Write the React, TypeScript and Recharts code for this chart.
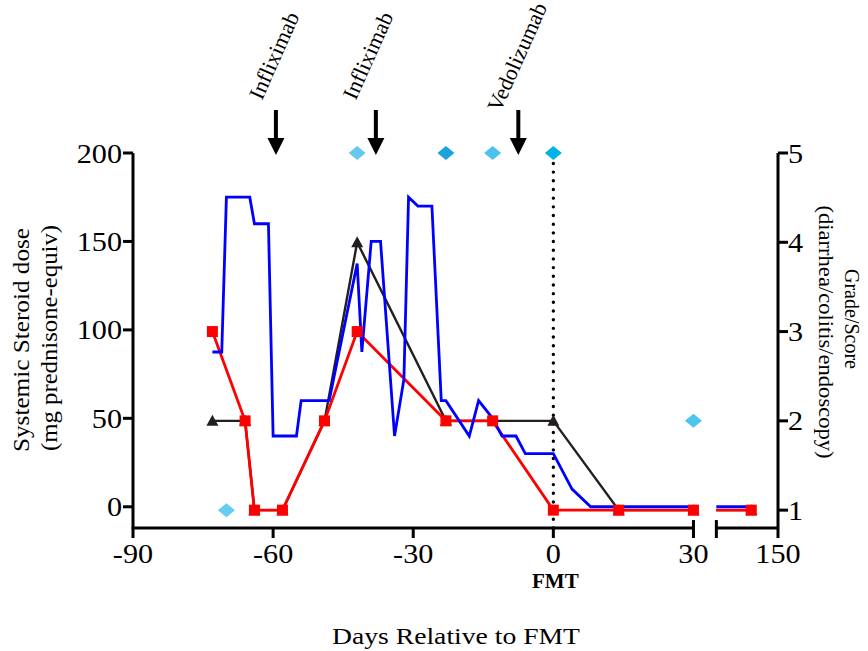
import React from 'react';
import { ComposedChart, Line, Scatter, XAxis, YAxis, ReferenceLine, ReferenceDot, Cell } from 'recharts';

// broken x axis: days -90..30 run 1:1, then the axis jumps to a short 120..150 segment
const BREAK_FROM = 30;
const BREAK_TO = 120;
const AXIS_END = 150;
const SEG2_START = 34.9;
const SEG2_END = 48.1;

const toPlot = (day: number) =>
  day <= BREAK_FROM ? day : SEG2_START + ((day - BREAK_TO) * (SEG2_END - SEG2_START)) / (AXIS_END - BREAK_TO);

// systemic steroid dose, mg prednisone-equiv (left axis)
const doseDays = [-73, -71, -70, -65, -64, -61, -60, -55, -54, -48, -42, -41, -39, -37, -34, -32, -31, -29, -26, -24, -23, -18, -16, -13, -11, -8, -6, 0, 4, 8, 30, 137];
const doseMg = [87.5, 87.5, 175, 175, 160, 160, 40, 40, 60, 60, 137.5, 87.5, 150, 150, 40, 72, 175, 170, 170, 60, 60, 40, 60, 50, 40, 40, 30, 30, 10, 0, 0, 0];

// grade (right axis), red squares
const redDays = [-73, -66, -64, -58, -49, -42, -23, -13, 0, 14, 30, 137];
const redGrade = [3, 2, 1, 1, 2, 3, 2, 2, 1, 1, 1, 1];

// grade (right axis), black triangles
const blackDays = [-73, -66, -64, -58, -49, -42, -23, 0, 14, 30, 137];
const blackGrade = [2, 2, 1, 1, 2, 4, 2, 2, 1, 1, 1];

// endoscopy score (right axis), diamonds
const endoDays = [-70, -42, -23, -13, 0, 30];
const endoScore = [1, 5, 5, 5, 5, 2];
const endoColors = ['#66CCF2', '#66C8EA', '#1AA3DC', '#4BC3EE', '#00B4E4', '#4DC6EE'];

const xTickDays = [-90, -60, -30, 0, 30, 150];
const doseTicks = [0, 50, 100, 150, 200];
const gradeTicks = [1, 2, 3, 4, 5];

const drugDays = [-59.4, -38, -7.5];
const drugNames = ['Infliximab', 'Infliximab', 'Vedolizumab'];
const drugLabelOffsets = [[-14, -52], [-20, -52], [-18, -40]];

const FONT = '"Liberation Serif", "Times New Roman", serif';

const points = (days: number[], vals: number[]) => days.map((d, i) => ({ x: toPlot(d), y: vals[i] }));

// line data, cut where it crosses the axis break
const lineData = (days: number[], vals: number[]) => {
  const out: { x: number; y: number | null }[] = [];
  days.forEach((d, i) => {
    if (i > 0 && days[i - 1] <= BREAK_FROM && d >= BREAK_TO) {
      const p = days[i - 1];
      const v = vals[i - 1] + ((vals[i] - vals[i - 1]) * (BREAK_TO - p)) / (d - p);
      out.push({ x: (BREAK_FROM + SEG2_START) / 2, y: null });
      out.push({ x: SEG2_START, y: v });
    }
    out.push({ x: toPlot(d), y: vals[i] });
  });
  return out;
};

const XTick = ({ x, y, payload }: any) => {
  const day = xTickDays.find((d) => Math.abs(toPlot(d) - payload.value) < 1e-6);
  if (day === undefined) return null;
  return (
    <g transform={`translate(${x},${y})`}>
      <text y={23} textAnchor="middle" fontFamily={FONT} fontSize={27} fill="#000" transform="scale(1.12,1)">
        {day}
      </text>
      {day === 0 && (
        <text x={2} y={48} textAnchor="middle" fontFamily={FONT} fontSize={21} fontWeight="bold" fill="#000">
          FMT
        </text>
      )}
    </g>
  );
};

const YTick = ({ x, y, payload, anchor }: any) => (
  <g transform={`translate(${x},${y})`}>
    <text y={9.5} textAnchor={anchor} fontFamily={FONT} fontSize={27} fill="#000" transform="scale(1.12,1)">
      {payload.value}
    </text>
  </g>
);

const Square = ({ cx, cy }: any) => <rect x={cx - 5.5} y={cy - 5.5} width={11} height={11} fill="#FF0000" />;
const Triangle = ({ cx, cy }: any) => (
  <polygon points={`${cx - 6},${cy + 5} ${cx + 6},${cy + 5} ${cx},${cy - 6}`} fill="#231F20" />
);
const Diamond = ({ cx, cy, fill }: any) => (
  <polygon points={`${cx - 8.5},${cy} ${cx},${cy - 7} ${cx + 8.5},${cy} ${cx},${cy + 7}`} fill={fill} />
);

const Arrow = ({ cx, cy, name, offset }: any) => (
  <g>
    <rect x={cx - 2} y={cy - 43} width={4} height={30} fill="#000" />
    <polygon points={`${cx - 8.5},${cy - 15} ${cx + 8.5},${cy - 15} ${cx},${cy + 2}`} fill="#000" />
    <text
      transform={`translate(${cx + offset[0]},${cy + offset[1]}) rotate(-66)`}
      fontFamily={FONT}
      fontSize={22}
      fill="#000"
    >
      {name}
    </text>
  </g>
);

export default function App() {
  const xTicks = [...xTickDays.map(toPlot), SEG2_START].sort((a, b) => a - b);
  const axisY = -12;
  const capY = -7.5;

  return (
    <div style={{ position: 'absolute', left: 0, top: 0, width: 868, height: 651, background: '#fff' }}>
      <ComposedChart width={868} height={651} margin={{ top: 153, right: 0, bottom: 0, left: 0 }}>
        <XAxis
          type="number"
          dataKey="x"
          domain={[-90, SEG2_END]}
          ticks={xTicks}
          interval={0}
          height={123}
          axisLine={false}
          tickSize={10}
          tickLine={{ stroke: '#000', strokeWidth: 3 }}
          tick={<XTick />}
        />
        <YAxis
          yAxisId="dose"
          dataKey="y"
          type="number"
          domain={[-12, 200]}
          ticks={doseTicks}
          interval={0}
          width={133}
          tickSize={10}
          tickMargin={1}
          axisLine={{ stroke: '#000', strokeWidth: 3 }}
          tickLine={{ stroke: '#000', strokeWidth: 3 }}
          tick={<YTick anchor="end" />}
        />
        <YAxis
          yAxisId="grade"
          dataKey="y"
          type="number"
          orientation="right"
          domain={[0.8, 5]}
          ticks={gradeTicks}
          interval={0}
          width={90}
          tickSize={10}
          tickMargin={0}
          axisLine={{ stroke: '#000', strokeWidth: 3 }}
          tickLine={{ stroke: '#000', strokeWidth: 3 }}
          tick={<YTick anchor="start" />}
        />

        <ReferenceLine
          yAxisId="dose"
          x={0}
          stroke="#000"
          strokeWidth={3.4}
          strokeDasharray="0.01 8.67"
          strokeLinecap="round"
        />
        <ReferenceLine yAxisId="dose" ifOverflow="visible" stroke="#000" strokeWidth={3}
          segment={[{ x: -90.3, y: axisY }, { x: BREAK_FROM, y: axisY }]} />
        <ReferenceLine yAxisId="dose" ifOverflow="visible" stroke="#000" strokeWidth={3}
          segment={[{ x: SEG2_START, y: axisY }, { x: SEG2_END, y: axisY }]} />
        <ReferenceLine yAxisId="dose" ifOverflow="visible" stroke="#000" strokeWidth={3}
          segment={[{ x: BREAK_FROM, y: axisY }, { x: BREAK_FROM, y: capY }]} />
        <ReferenceLine yAxisId="dose" ifOverflow="visible" stroke="#000" strokeWidth={3}
          segment={[{ x: SEG2_START, y: axisY }, { x: SEG2_START, y: capY }]} />

        <Line yAxisId="grade" data={lineData(blackDays, blackGrade)} dataKey="y" stroke="#231F20" strokeWidth={2.4}
          dot={false} activeDot={false} isAnimationActive={false} />
        <Scatter yAxisId="grade" data={points(blackDays, blackGrade)} shape={<Triangle />} isAnimationActive={false} />
        <Line yAxisId="grade" data={lineData(redDays, redGrade)} dataKey="y" stroke="#FF0000" strokeWidth={2.8}
          dot={false} activeDot={false} isAnimationActive={false} />
        <Scatter yAxisId="grade" data={points(redDays, redGrade)} shape={<Square />} isAnimationActive={false} />
        <Line yAxisId="dose" data={lineData(doseDays, doseMg)} dataKey="y" stroke="#0000FF" strokeWidth={2.8}
          dot={false} activeDot={false} isAnimationActive={false} />
        <Scatter yAxisId="grade" data={points(endoDays, endoScore)} shape={<Diamond />} isAnimationActive={false}>
          {endoDays.map((d, i) => (
            <Cell key={d} fill={endoColors[i]} />
          ))}
        </Scatter>

        {drugDays.map((d, i) => (
          <ReferenceDot
            key={i}
            yAxisId="dose"
            x={toPlot(d)}
            y={200}
            ifOverflow="visible"
            shape={(p: any) => <Arrow cx={p.cx} cy={p.cy} name={drugNames[i]} offset={drugLabelOffsets[i]} />}
          />
        ))}
      </ComposedChart>

      <svg width={868} height={651} style={{ position: 'absolute', left: 0, top: 0, pointerEvents: 'none' }}>
        <g fontFamily={FONT} fill="#000">
          <text x={456} y={644} textAnchor="middle" fontSize={24} textLength={248} lengthAdjust="spacingAndGlyphs">
            Days Relative to FMT
          </text>
          <text transform="translate(29,340) rotate(-90)" textAnchor="middle" fontSize={23} textLength={224}
            lengthAdjust="spacingAndGlyphs">
            Systemic Steroid dose
          </text>
          <text transform="translate(57,338) rotate(-90)" textAnchor="middle" fontSize={23} textLength={226}
            lengthAdjust="spacingAndGlyphs">
            (mg prednisone-equiv)
          </text>
          <text transform="translate(845,319) rotate(90)" textAnchor="middle" fontSize={22} textLength={100}
            lengthAdjust="spacingAndGlyphs">
            Grade/Score
          </text>
          <text transform="translate(819,332) rotate(90)" textAnchor="middle" fontSize={22} textLength={253}
            lengthAdjust="spacingAndGlyphs">
            (diarrhea/colitis/endoscopy)
          </text>
        </g>
      </svg>
    </div>
  );
}
